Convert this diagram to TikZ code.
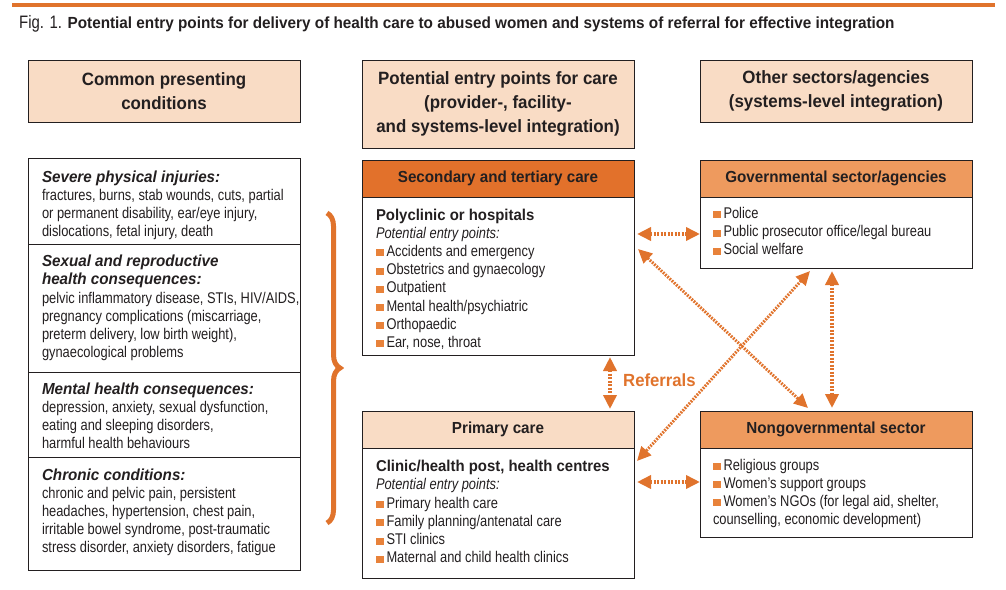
\documentclass[tikz,border=0pt]{standalone}
\usepackage{fontspec}
\setmainfont{Liberation Sans}[FakeStretch=0.83]
\newfontfamily\hb{Liberation Sans}[FakeStretch=0.95]
\usetikzlibrary{arrows.meta,calc,decorations.pathreplacing}
\definecolor{peach}{HTML}{F9DCC5}
\definecolor{orD}{HTML}{E2712B}
\definecolor{orM}{HTML}{EE9A5E}
\definecolor{orA}{HTML}{E0732C}
\definecolor{orB}{HTML}{E8823A}
\definecolor{ink}{HTML}{231F20}
\newcommand\bul{\textcolor{orB}{\rule{8pt}{7pt}}\hspace{2.5pt}}
\newcommand\bodyf{\fontsize{15.5}{18.2}\selectfont}
\newcommand\itf{\fontsize{15.5}{18.2}\selectfont\itshape}
\newcommand\hdf{\hb\bfseries\fontsize{17.8}{24.3}\selectfont}
\newcommand\boxf{\hb\bfseries\fontsize{16}{18.2}\selectfont}
\newcommand\subf{\hb\bfseries\fontsize{15.7}{18.2}\selectfont}
\newcommand\secf{\hb\bfseries\itshape\fontsize{16}{18.2}\selectfont}
\newcommand\st[1]{\rule{0pt}{#1pt}}
\begin{document}
\begin{tikzpicture}[x=1pt,y=-1pt,
  box/.style={draw=ink, line width=1pt, anchor=north west, inner sep=0pt, outer sep=0pt, text=ink, minimum width=272pt},
  txt/.style={anchor=north west, inner sep=0pt, outer sep=0pt, align=left, text=ink, font=\bodyf},
  tipA/.tip={Triangle[length=14pt,width=13pt]},
  arr/.style={draw=orA, line width=4pt, dash pattern=on 2.2pt off 1.3pt, tipA-tipA},
  darr/.style={draw=orA, line width=3pt, dash pattern=on 1.8pt off 1.2pt, tipA-tipA}]
\useasboundingbox (0,0) rectangle (1006,589);
% top rule
\draw[orA, line width=4.5pt] (12,5) -- (995,5);
\node[anchor=base west, inner sep=0pt, text=ink] (ttl) at (19,28.5)
  {{\fontsize{18}{20}\selectfont Fig. 1. }{\hb\bfseries\fontsize{16.1}{20}\selectfont Potential entry points for delivery of health care to abused women and systems of referral for effective integration}};
% column headers
\node[box, fill=peach, minimum height=62pt, align=center, font=\hdf] (lh) at (28,60) {Common presenting\\conditions};
\node[box, fill=peach, minimum height=88pt, align=center, font=\hdf] (mh) at (362,60) {Potential entry points for care\\(provider-, facility-\\and systems-level integration)};
\node[box, fill=peach, minimum height=62pt, align=center, font=\hdf] (rh) at (700,60) {Other sectors/agencies\\(systems-level integration)};
% left list
\node[box, minimum height=86pt] (ls1) at (28,158) {};
\node[box, minimum height=128pt] (ls2) at (28,244) {};
\node[box, minimum height=85pt] (ls3) at (28,372) {};
\node[box, minimum height=113pt] (ls4) at (28,457) {};
\node[txt] (t1) at (42,169.3) {\secf\st{13}Severe physical injuries:\\
  \bodyf fractures, burns, stab wounds, cuts, partial\\
  \bodyf or permanent disability, ear/eye injury,\\
  \bodyf dislocations, fetal injury, death};
\node[txt] (t2) at (42,253.7) {\secf\st{13}Sexual and reproductive\\
  \secf health consequences:\\
  \bodyf pelvic inflammatory disease, STIs, HIV/AIDS,\\
  \bodyf pregnancy complications (miscarriage,\\
  \bodyf preterm delivery, low birth weight),\\
  \bodyf gynaecological problems};
\node[txt] (t3) at (42,381) {\secf\st{13}Mental health consequences:\\
  \bodyf depression, anxiety, sexual dysfunction,\\
  \bodyf eating and sleeping disorders,\\
  \bodyf harmful health behaviours};
\node[txt] (t4) at (42,467) {\secf\st{13}Chronic conditions:\\
  \bodyf chronic and pelvic pain, persistent\\
  \bodyf headaches, hypertension, chest pain,\\
  \bodyf irritable bowel syndrome, post-traumatic\\
  \bodyf stress disorder, anxiety disorders, fatigue};
% brace
\draw[orA, line width=5pt, decorate, decoration={brace, amplitude=13pt}] (327,213) -- (327,523);
% secondary care
\node[box, fill=orD, minimum height=37pt, font=\boxf] (sech) at (362,160) {Secondary and tertiary care};
\node[box, minimum height=158pt] (secb) at (362,197) {};
\node[txt] (tsec) at (376,208) {\subf\st{12}Polyclinic or hospitals\\
  \itf Potential entry points:\\
  \bodyf\bul Accidents and emergency\\
  \bodyf\bul Obstetrics and gynaecology\\
  \bodyf\bul Outpatient\\
  \bodyf\bul Mental health/psychiatric\\
  \bodyf\bul Orthopaedic\\
  \bodyf\bul Ear, nose, throat};
% primary care
\node[box, fill=peach, minimum height=37pt, font=\boxf] (prih) at (362,411) {Primary care};
\node[box, minimum height=130pt] (prib) at (362,448) {};
\node[txt] (tpri) at (376,459.7) {\subf\st{12}Clinic/health post, health centres\\
  \itf Potential entry points:\\
  \bodyf\bul Primary health care\\
  \bodyf\bul Family planning/antenatal care\\
  \bodyf\bul STI clinics\\
  \bodyf\bul Maternal and child health clinics};
% governmental
\node[box, fill=orM, minimum height=37pt, font=\boxf] (govh) at (700,160) {Governmental sector/agencies};
\node[box, minimum height=71pt] (govb) at (700,197) {};
\node[txt] (tgov) at (713,206.3) {\bodyf\st{12}\bul Police\\
  \bodyf\bul Public prosecutor office/legal bureau\\
  \bodyf\bul Social welfare};
% nongovernmental
\node[box, fill=orM, minimum height=37pt, font=\boxf] (ngoh) at (700,411) {Nongovernmental sector};
\node[box, minimum height=89pt] (ngob) at (700,448) {};
\node[txt] (tngo) at (713,458) {\bodyf\st{12}\bul Religious groups\\
  \bodyf\bul Women's support groups\\
  \bodyf\bul Women's NGOs (for legal aid, shelter,\\
  \bodyf counselling, economic development)};
% referrals label
\node[anchor=base west, inner sep=0pt, text=orA, font=\hb\bfseries\fontsize{17.6}{18}\selectfont] (ref) at (623,386.7) {Referrals};
% connectors
\draw[arr] ($(secb.north east)+(3,37)$) -- ($(govb.north west)+(0,37)$);
\draw[arr] ($(prib.north east)+(3,34)$) -- ($(ngob.north west)+(0,34)$);
\draw[arr] ($(secb.south east)+(-24,2)$) -- ($(prih.north east)+(-24,-2)$);
\draw[arr] ($(govb.south west)+(132,3)$) -- ($(ngoh.north west)+(132,-3)$);
\draw[darr] ($(secb.north east)+(4,52)$) -- ($(ngoh.north west)+(108,-3)$);
\draw[darr] ($(govb.south west)+(110,3)$) -- ($(prib.north east)+(3,13)$);
\end{tikzpicture}
\end{document}
